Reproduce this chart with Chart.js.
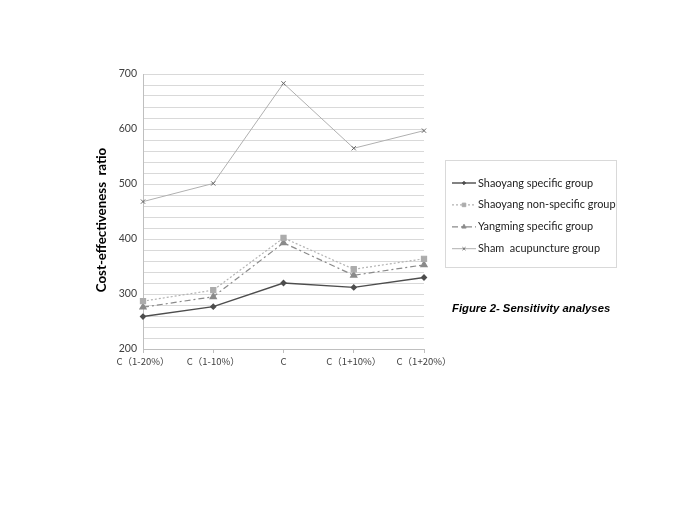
<!DOCTYPE html>
<html>
<head>
    <title>Figure 2- Sensitivity analyses</title>
    <script src="https://cdn.jsdelivr.net/npm/chart.js"></script>
    <style>
        body {
            margin: 0;
            background-color: #fff;
        }

        .wrap {
            position: relative;
            width: 685px;
            height: 513px;
        }

        .caption {
            position: absolute;
            left: 452px;
            top: 302px;
            font-family: "Liberation Sans", Arial, sans-serif;
            font-size: 11.3px;
            font-weight: bold;
            font-style: italic;
            color: #000;
            white-space: nowrap;
        }
    </style>
</head>
<body>
    <div class="wrap">
        <canvas id="myChart" width="685" height="513"></canvas>
        <div class="caption">Figure 2- Sensitivity analyses</div>
    </div>

    <script>
        // 橫軸類別
        var categories = ['C（1-20%）', 'C（1-10%）', 'C', 'C（1+10%）', 'C（1+20%）'];

        // 各組數值
        var shaoyangSpecific = [259, 277, 320, 312, 330];
        var shaoyangNonSpecific = [287, 307, 402, 345, 364];
        var yangmingSpecific = [276, 295, 393, 334, 353];
        var shamAcupuncture = [468, 501, 683, 565, 597];

        var seriesNames = ['Shaoyang specific group', 'Shaoyang non-specific group',
            'Yangming specific group', 'Sham  acupuncture group'];

        var yTitle = 'Cost-effectiveness  ratio';

        // 縱軸刻度
        var yMin = 200, yMax = 700, yStep = 20, yLabelEvery = 100;

        // 圖例外框 + 線條樣本, 縱軸標題
        var boxLegend = {
            id: 'boxLegend',
            afterDraw: function (chart) {
                var ctx = chart.ctx;
                var left = 445, top = 160, w = 171, h = 107;
                ctx.save();
                ctx.strokeStyle = '#d9d9d9';
                ctx.lineWidth = 1;
                ctx.strokeRect(left + 0.5, top + 0.5, w, h);

                chart.data.datasets.forEach(function (ds, i) {
                    var y = 183 + i * 21.9;
                    ctx.save();
                    ctx.strokeStyle = ds.borderColor;
                    ctx.lineWidth = ds.borderWidth;
                    ctx.setLineDash(ds.borderDash || []);
                    ctx.beginPath();
                    ctx.moveTo(452, y);
                    ctx.lineTo(476, y);
                    ctx.stroke();
                    ctx.restore();

                    ctx.save();
                    ctx.fillStyle = ds.pointBackgroundColor;
                    ctx.strokeStyle = ds.pointBorderColor;
                    ctx.lineWidth = 1;
                    Chart.helpers.drawPoint(ctx, {
                        pointStyle: ds.pointStyle,
                        radius: ds.pointRadius * 0.7,
                        rotation: 0,
                        borderWidth: 1
                    }, 464, y);
                    ctx.restore();

                    ctx.fillStyle = '#222';
                    ctx.font = '10.9px Lato, sans-serif';
                    ctx.textBaseline = 'middle';
                    ctx.textAlign = 'left';
                    ctx.fillText(ds.label, 478, y);
                });

                // 縱軸標題
                ctx.save();
                ctx.translate(102, 220);
                ctx.rotate(-Math.PI / 2);
                ctx.fillStyle = '#000';
                ctx.font = 'bold 13.3px Lato, sans-serif';
                ctx.textAlign = 'center';
                ctx.textBaseline = 'middle';
                ctx.fillText(yTitle, 0, 0);
                ctx.restore();

                ctx.restore();
            }
        };

        var ctx = document.getElementById('myChart').getContext('2d');
        var myChart = new Chart(ctx, {
            type: 'line',
            data: {
                labels: categories,
                datasets: [{
                    label: seriesNames[0],
                    data: shaoyangSpecific,
                    borderColor: '#4d4d4d',
                    borderWidth: 1.4,
                    pointStyle: 'rectRot',
                    pointRadius: 2.4,
                    pointBackgroundColor: '#4d4d4d',
                    pointBorderColor: '#4d4d4d'
                }, {
                    label: seriesNames[1],
                    data: shaoyangNonSpecific,
                    borderColor: '#b3b3b3',
                    borderWidth: 1.2,
                    borderDash: [2, 2],
                    pointStyle: 'rect',
                    pointRadius: 3.6,
                    pointBackgroundColor: '#acacac',
                    pointBorderColor: '#acacac'
                }, {
                    label: seriesNames[2],
                    data: yangmingSpecific,
                    borderColor: '#8a8a8a',
                    borderWidth: 1.2,
                    borderDash: [6, 3, 2, 3],
                    pointStyle: 'triangle',
                    pointRadius: 3.6,
                    pointBackgroundColor: '#8a8a8a',
                    pointBorderColor: '#8a8a8a'
                }, {
                    label: seriesNames[3],
                    data: shamAcupuncture,
                    borderColor: '#b0b0b0',
                    borderWidth: 1,
                    pointStyle: 'crossRot',
                    pointRadius: 3,
                    pointBackgroundColor: '#666',
                    pointBorderColor: '#666'
                }]
            },
            options: {
                responsive: false,
                animation: false,
                layout: {
                    padding: { left: 92, right: 261, top: 74, bottom: 144 }
                },
                plugins: {
                    legend: { display: false },
                    tooltip: { enabled: false }
                },
                scales: {
                    x: {
                        offset: false,
                        grid: {
                            drawOnChartArea: false,
                            drawTicks: true,
                            tickLength: 4,
                            color: '#bfbfbf'
                        },
                        border: { color: '#bfbfbf' },
                        ticks: {
                            color: '#404040',
                            maxRotation: 0,
                            autoSkip: false,
                            padding: 3,
                            font: { family: '"Noto Sans CJK SC", sans-serif', size: 9.5 }
                        },
                        afterFit: function (scale) { scale.height = 20; }
                    },
                    y: {
                        min: yMin,
                        max: yMax,
                        grid: {
                            color: '#d9d9d9',
                            drawTicks: false
                        },
                        border: { color: '#bfbfbf' },
                        ticks: {
                            stepSize: yStep,
                            autoSkip: false,
                            padding: 6,
                            color: '#404040',
                            font: { family: 'Lato, sans-serif', size: 10.5 },
                            callback: function (v) { return v % yLabelEvery === 0 ? v : ''; }
                        },
                        afterFit: function (scale) { scale.width = 51; }
                    }
                }
            },
            plugins: [boxLegend]
        });
    </script>
</body>
</html>
